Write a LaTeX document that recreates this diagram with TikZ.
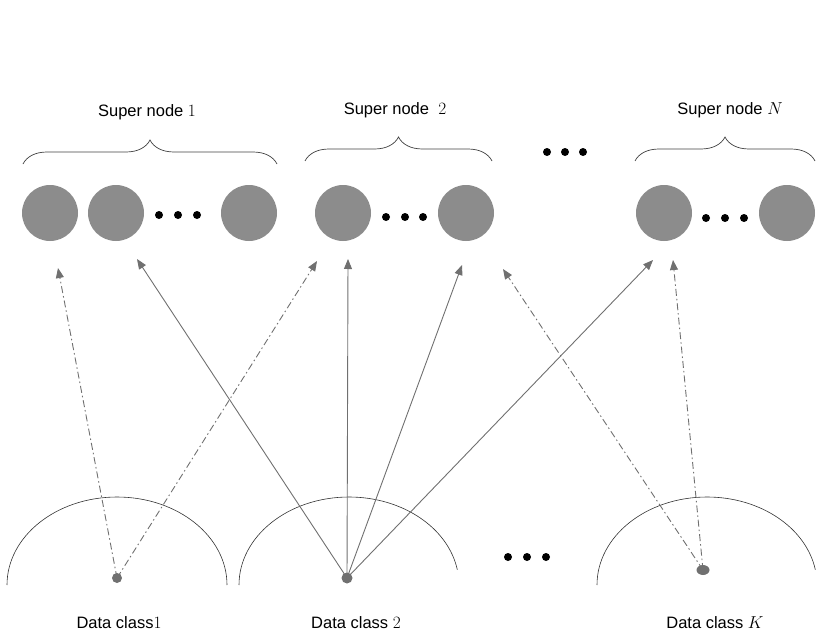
\documentclass[tikz,border=0pt]{standalone}
\usepackage{fontspec}
\setmainfont{Liberation Sans}
\usetikzlibrary{arrows.meta}
\usetikzlibrary{decorations.pathreplacing}
\definecolor{nodegray}{HTML}{8C8C8C}
\definecolor{arrowgray}{HTML}{707070}

\begin{document}
\begin{tikzpicture}[x=1pt, y=1pt,
    font=\fontsize{16.5}{19}\selectfont,
    snode/.style={circle, fill=nodegray, draw=none, inner sep=0pt, minimum size=56pt},
    edot/.style={circle, fill=black, inner sep=0pt, minimum size=8pt},
    sample/.style={circle, fill=arrowgray, inner sep=0pt, minimum size=10pt},
    conn/.style={draw=arrowgray, line width=0.9pt, -{Triangle[length=10pt, width=8pt]}},
    weak/.style={conn, dash pattern=on 7pt off 3pt on 1.5pt off 3pt},
    cluster/.style={draw=black!80, line width=0.6pt},
    grp/.style={draw=black!75, line width=0.7pt, decorate,
      decoration={brace, amplitude=24pt, aspect=0.5}}]
  \useasboundingbox (0,0) rectangle (830,-642);

  % super node 1
  \node[snode] (s11) at (50,-213) {};
  \node[snode] (s12) at (116,-213) {};
  \node[edot]  (d11) at (159,-215) {};
  \node[edot]  (d12) at (178,-215) {};
  \node[edot]  (d13) at (197,-215) {};
  \node[snode] (s13) at (249,-213) {};
  \draw[grp] (23,-164) -- (277,-164);
  \node (lab1) at (147,-112) {Super node $1$};

  % super node 2
  \node[snode] (s21) at (343,-213) {};
  \node[edot]  (d21) at (386,-217) {};
  \node[edot]  (d22) at (405,-217) {};
  \node[edot]  (d23) at (423,-217) {};
  \node[snode] (s22) at (466,-213) {};
  \draw[grp] (305,-161) -- (492,-161);
  \node (lab2) at (395,-110) {Super node~ $2$};

  % gap between groups
  \node[edot] (g1) at (547,-152) {};
  \node[edot] (g2) at (565,-152) {};
  \node[edot] (g3) at (583,-152) {};

  % super node N
  \node[snode] (sN1) at (664,-213) {};
  \node[edot]  (dN1) at (706,-218) {};
  \node[edot]  (dN2) at (725,-218) {};
  \node[edot]  (dN3) at (744,-218) {};
  \node[snode] (sN2) at (787,-213) {};
  \draw[grp] (635,-161) -- (815,-161);
  \node (labN) at (730,-110) {Super node $N$};

  % data classes
  \draw[cluster] (7,-585) arc[start angle=180, end angle=0, x radius=110, y radius=88];
  \draw[cluster] (239,-585) arc[start angle=180, end angle=10, x radius=110, y radius=88];
  \draw[cluster] (597,-585) arc[start angle=180, end angle=10, x radius=110, y radius=88];
  \node[edot] (c1) at (508,-557) {};
  \node[edot] (c2) at (527,-557) {};
  \node[edot] (c3) at (546,-557) {};

  \node[sample] (x1) at (117,-578) {};
  \node[sample, minimum size=11pt] (x2) at (347,-578) {};
  \node[sample, xscale=1.3] (xK) at (703,-570) {};

  \node (dc1) at (119,-623) {Data class$1$};
  \node (dc2) at (356,-623) {Data class $2$};
  \node (dcK) at (715,-623) {Data class $K$};

  % arrow tips
  \coordinate (t1) at (58,-268);
  \coordinate (t2) at (317,-261);
  \coordinate (t3) at (137,-259);
  \coordinate (t4) at (348,-259);
  \coordinate (t5) at (462,-265);
  \coordinate (t6) at (653,-260);
  \coordinate (t7) at (503,-269);
  \coordinate (t8) at (673,-260);

  \draw[weak] (x1.center) -- (t1);
  \draw[weak] (x1.center) -- (t2);
  \draw[conn] (x2.center) -- (t3);
  \draw[conn] (x2.center) -- (t4);
  \draw[conn] (x2.center) -- (t5);
  \draw[conn] (x2.center) -- (t6);
  \draw[weak] (xK.center) -- (t7);
  \draw[weak] (xK.center) -- (t8);
\end{tikzpicture}
\end{document}
